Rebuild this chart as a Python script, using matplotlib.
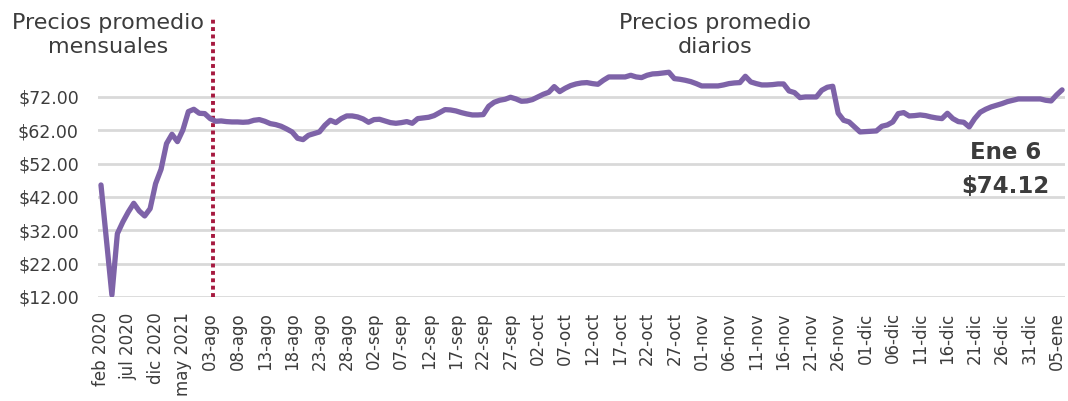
import matplotlib.pyplot as plt
import numpy as np

# Precios promedio mensuales (feb 2020 - jul 2021)
precios_mensuales = [45.6, 29.0, 12.6, 31.0, 34.5, 37.5, 40.1, 37.8, 36.3, 38.5,
                     46.0, 50.3, 58.0, 60.8, 58.6, 62.1, 67.6, 68.3]

# Precios promedio diarios (01-ago - 06-ene)
precios_diarios = [67.1, 67.0, 65.5, 64.7, 64.8, 64.6, 64.5, 64.5, 64.4, 64.5,
                   65.0, 65.2, 64.7, 64.0, 63.7, 63.2, 62.4, 61.5, 59.6, 59.2,
                   60.5, 61.0, 61.5, 63.5, 65.0, 64.3, 65.5, 66.3, 66.3, 66.0,
                   65.4, 64.4, 65.2, 65.3, 64.8, 64.3, 64.1, 64.3, 64.6, 64.1,
                   65.5, 65.7, 65.9, 66.4, 67.3, 68.2, 68.1, 67.8, 67.3, 66.9,
                   66.6, 66.6, 66.7, 69.2, 70.4, 71.0, 71.3, 71.9, 71.4, 70.7,
                   70.8, 71.2, 72.0, 72.8, 73.4, 75.1, 73.6, 74.6, 75.4, 75.9,
                   76.2, 76.3, 76.0, 75.8, 77.0, 78.0, 78.0, 78.0, 78.0, 78.5,
                   78.0, 77.8, 78.5, 78.9, 79.0, 79.2, 79.4, 77.5, 77.3, 77.0,
                   76.6, 76.0, 75.3, 75.3, 75.3, 75.3, 75.6, 76.0, 76.2, 76.3,
                   78.2, 76.5, 76.0, 75.6, 75.6, 75.7, 75.9, 75.9, 73.8, 73.3,
                   71.8, 72.0, 72.0, 72.0, 74.0, 74.9, 75.2, 67.1, 65.0, 64.5,
                   63.0, 61.5, 61.6, 61.7, 61.8, 63.2, 63.6, 64.5, 67.0, 67.3,
                   66.3, 66.4, 66.6, 66.4, 66.0, 65.7, 65.5, 67.1, 65.5, 64.6,
                   64.4, 63.0, 65.5, 67.4, 68.3, 69.0, 69.5, 70.0, 70.6, 71.0,
                   71.4, 71.4, 71.4, 71.4, 71.4, 71.0, 70.8, 72.6, 74.12]

etiquetas_x = ['feb 2020', 'jul 2020', 'dic 2020', 'may 2021',
               '03-ago', '08-ago', '13-ago', '18-ago', '23-ago', '28-ago',
               '02-sep', '07-sep', '12-sep', '17-sep', '22-sep', '27-sep',
               '02-oct', '07-oct', '12-oct', '17-oct', '22-oct', '27-oct',
               '01-nov', '06-nov', '11-nov', '16-nov', '21-nov', '26-nov',
               '01-dic', '06-dic', '11-dic', '16-dic', '21-dic', '26-dic',
               '31-dic', '05-ene']
ticks_y = [12, 22, 32, 42, 52, 62, 72]

precios = precios_mensuales + precios_diarios
x = np.arange(len(precios))

gris = '#3c3c3c'
fig = plt.figure(figsize=(10.68, 4.01), dpi=100)
ax = fig.add_axes([0.092, 0.2594, 0.905, 0.582])

ax.set_ylim(12, 82)
ax.set_xlim(-0.5, len(precios) - 0.5)
ax.set_yticks(ticks_y)
ax.set_yticklabels([f'${v:.2f}' for v in ticks_y])
for v in ticks_y:
    ax.axhline(v, color='#d9d9d9', lw=2.0, zorder=1)

ax.plot(x, precios, color='#7e63a8', lw=3.8, solid_capstyle='round',
        solid_joinstyle='round', zorder=3)

# linea divisoria mensual / diario
ax.axvline(20.5, ymin=0, ymax=1.2, color='#a6193f', lw=2.8,
           linestyle=(0, (1, 0.9)), clip_on=False, zorder=2)

ax.set_xticks(np.arange(0, len(precios), 5))
ax.set_xticklabels(etiquetas_x, rotation=90, va='top', ha='center')
ax.tick_params(axis='x', length=0, pad=11, labelsize=12, colors=gris)
ax.tick_params(axis='y', length=0, pad=14, labelsize=12.5, colors=gris)
for s in ax.spines.values():
    s.set_visible(False)

fig.text(108 / 1068, 1 - 35 / 401, 'Precios promedio\nmensuales', ha='center',
         va='center', fontsize=16, color=gris, linespacing=1.2)
fig.text(715 / 1068, 1 - 35 / 401, 'Precios promedio\ndiarios', ha='center',
         va='center', fontsize=16, color=gris, linespacing=1.2)

ax.text(165.6, 55.2, 'Ene 6', ha='center', va='center', fontsize=16.5,
        fontweight='bold', color=gris)
ax.text(165.6, 45.0, f'${precios[-1]:.2f}', ha='center', va='center',
        fontsize=16.5, fontweight='bold', color=gris)

fig.savefig('out.png', dpi=100, facecolor='white')
